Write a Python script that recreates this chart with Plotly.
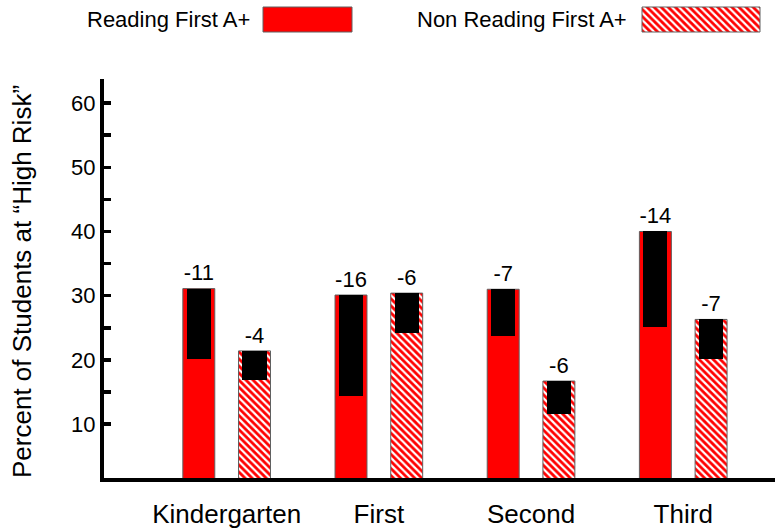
import plotly.graph_objects as go

# ---------------- data ----------------
categories = ["Kindergarten", "First", "Second", "Third"]
rf_start = [31.1, 30.1, 31.0, 40.0]
rf_end = [20.1, 14.3, 23.7, 25.1]
rf_change = [-11, -16, -7, -14]
nrf_start = [21.4, 30.4, 16.7, 26.3]
nrf_end = [16.9, 24.2, 11.5, 20.1]
nrf_change = [-4, -6, -6, -7]
y_ticks = [10, 20, 30, 40, 50, 60]
y_minor = [15, 25, 35, 45, 55]
series_names = ["Reading First A+", "Non Reading First A+"]
y_title = "Percent of Students at \u201cHigh Risk\u201d"

# ---------------- style ----------------
W, H = 775, 532
FONT = "Liberation Sans, Arial, sans-serif"
RED = "#ff0000"
OUT = "#606060"
OFF = 0.183
BW = 0.21
BLK_W = 0.158
HATCH = dict(shape="\\", fgcolor="white", bgcolor=RED, size=5, solidity=0.45, fillmode="replace")

idx = list(range(len(categories)))
x_rf = [i - OFF for i in idx]
x_nrf = [i + OFF for i in idx]

fig = go.Figure()

fig.add_trace(go.Bar(x=x_rf, y=rf_start, width=BW, name=series_names[0],
                     marker=dict(color=RED, line=dict(color=OUT, width=1)),
                     showlegend=False, hoverinfo="skip"))
fig.add_trace(go.Bar(x=x_nrf, y=nrf_start, width=BW, name=series_names[1],
                     marker=dict(color=RED, pattern=HATCH, line=dict(color=OUT, width=1)),
                     showlegend=False, hoverinfo="skip"))
fig.add_trace(go.Bar(x=x_rf, y=[s - e for s, e in zip(rf_start, rf_end)], base=rf_end,
                     width=BLK_W, marker=dict(color="black", line=dict(width=0)),
                     showlegend=False, hoverinfo="skip"))
fig.add_trace(go.Bar(x=x_nrf, y=[s - e for s, e in zip(nrf_start, nrf_end)], base=nrf_end,
                     width=BLK_W, marker=dict(color="black", line=dict(width=0)),
                     showlegend=False, hoverinfo="skip"))
fig.add_trace(go.Scatter(x=x_rf + x_nrf, y=rf_start + nrf_start, mode="markers+text",
                         marker=dict(size=3, color="rgba(0,0,0,0)"),
                         text=[str(v) for v in rf_change + nrf_change],
                         textposition="top center",
                         textfont=dict(family=FONT, size=22, color="black"),
                         showlegend=False, hoverinfo="skip", cliponaxis=False))

# ---- custom legend (text left of swatch) on a full-figure helper axis ----
def rect(x0, x1, y0, y1):
    return [x0, x1, x1, x0, x0], [y0, y0, y1, y1, y0]

rx, ry = rect(263, 352, 7, 32)
fig.add_trace(go.Scatter(x=rx, y=ry, xaxis="x2", yaxis="y2", mode="lines", fill="toself",
                         fillcolor=RED, line=dict(color=OUT, width=1),
                         showlegend=False, hoverinfo="skip"))
hx, hy = rect(642, 760, 7, 32)
fig.add_trace(go.Scatter(x=hx, y=hy, xaxis="x2", yaxis="y2", mode="lines", fill="toself",
                         fillcolor=RED, fillpattern=HATCH, line=dict(color=OUT, width=1),
                         showlegend=False, hoverinfo="skip"))

annotations = [
    dict(text=series_names[0], x=252 / W, y=1 - 19.5 / H, xref="paper", yref="paper",
         xanchor="right", yanchor="middle", showarrow=False,
         font=dict(family=FONT, size=22, color="black")),
    dict(text=series_names[1], x=629 / W, y=1 - 19.5 / H, xref="paper", yref="paper",
         xanchor="right", yanchor="middle", showarrow=False,
         font=dict(family=FONT, size=22, color="black")),
    dict(text=y_title, x=22 / W, y=1 - 282 / H, xref="paper", yref="paper",
         xanchor="center", yanchor="middle", textangle=-90, showarrow=False,
         font=dict(family=FONT, size=26, color="black")),
]

fig.update_layout(
    width=W, height=H, autosize=False,
    margin=dict(l=0, r=0, t=0, b=0),
    paper_bgcolor="white", plot_bgcolor="rgba(0,0,0,0)",
    barmode="overlay", bargap=0,
    font=dict(family=FONT, color="black"),
    annotations=annotations,
    xaxis=dict(domain=[104 / W, 1], range=[-0.806, 3.603], anchor="y",
               tickvals=idx, ticktext=categories, ticks="", showgrid=False, zeroline=False,
               showline=True, linecolor="black", linewidth=3.5,
               tickfont=dict(family=FONT, size=26, color="black"),
               ticklabelstandoff=10),
    yaxis=dict(domain=[(H - 478) / H, (H - 79) / H], range=[1.6, 63.75], anchor="x",
               tickvals=y_ticks, ticks="inside", ticklen=7, tickwidth=3.5, tickcolor="black",
               minor=dict(tickvals=y_minor, ticks="inside", ticklen=7, tickwidth=3.5,
                          tickcolor="black", showgrid=False),
               showgrid=False, zeroline=False, showline=True, linecolor="black", linewidth=4,
               tickfont=dict(family=FONT, size=22, color="black")),
    xaxis2=dict(domain=[0, 1], range=[0, W], anchor="y2", visible=False, fixedrange=True),
    yaxis2=dict(domain=[0, 1], range=[H, 0], anchor="x2", visible=False, fixedrange=True),
)

fig.write_html("out.html", config={"displayModeBar": False, "staticPlot": True},
               post_script="document.body.style.margin='0px';document.body.style.overflow='hidden';")
